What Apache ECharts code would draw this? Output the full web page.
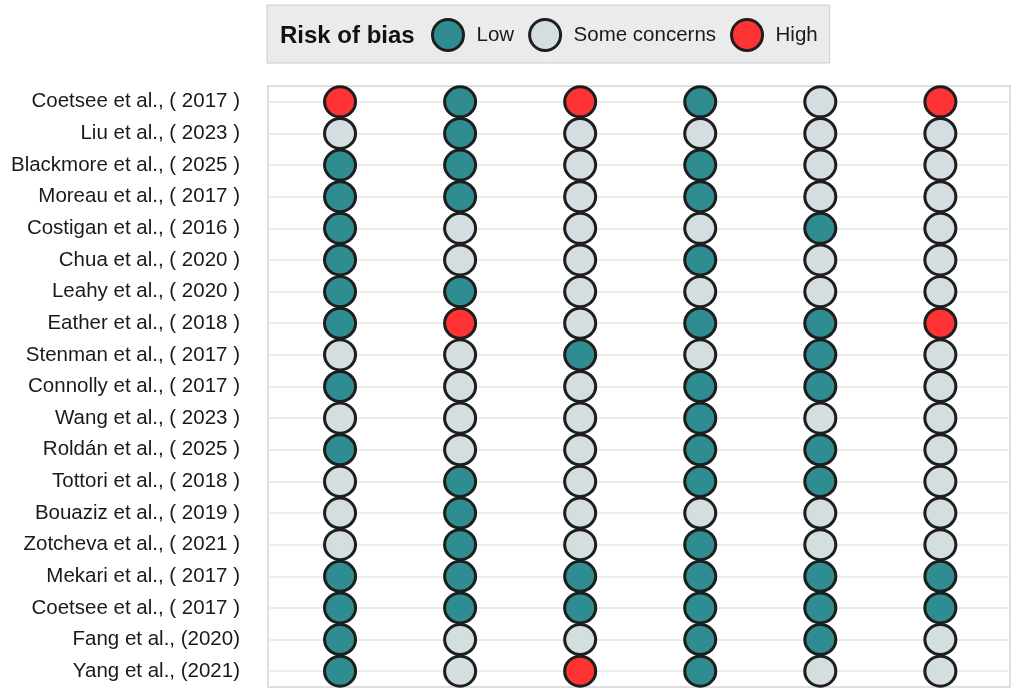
<!DOCTYPE html>
<html>
<head>
<meta charset="utf-8">
<script src="https://cdn.jsdelivr.net/npm/echarts@6/dist/echarts.min.js"></script>
<style>html,body{margin:0;padding:0;background:#fff}#c{width:1016px;height:695px}</style>
</head>
<body>
<div id="c"></div>
<script>
const studies = [
  'Coetsee et al., ( 2017 )','Liu et al., ( 2023 )','Blackmore et al., ( 2025 )','Moreau et al., ( 2017 )',
  'Costigan et al., ( 2016 )','Chua et al., ( 2020 )','Leahy et al., ( 2020 )','Eather et al., ( 2018 )',
  'Stenman et al., ( 2017 )','Connolly et al., ( 2017 )','Wang et al., ( 2023 )','Roldán et al., ( 2025 )',
  'Tottori et al., ( 2018 )','Bouaziz et al., ( 2019 )','Zotcheva et al., ( 2021 )','Mekari et al., ( 2017 )',
  'Coetsee et al., ( 2017 )','Fang et al., (2020)','Yang et al., (2021)'
];
const domains = [1, 2, 3, 4, 5, 6];
const d1 = ['H','S','L','L','L','L','L','L','S','L','S','L','S','S','S','L','L','L','L'];
const d2 = ['L','L','L','L','S','S','L','H','S','S','S','S','L','L','L','L','L','S','S'];
const d3 = ['H','S','S','S','S','S','S','S','L','S','S','S','S','S','S','L','L','S','H'];
const d4 = ['L','S','L','L','S','L','S','L','S','L','L','L','L','S','L','L','L','L','L'];
const d5 = ['S','S','S','S','L','S','S','L','L','L','S','L','L','S','S','L','L','L','S'];
const d6 = ['H','S','S','S','S','S','S','H','S','S','S','S','S','S','S','L','L','S','S'];
const judgements = [d1, d2, d3, d4, d5, d6];
const levelCodes = ['L', 'S', 'H'];
const levelNames = ['Low', 'Some concerns', 'High'];
const levelColors = ['#2f8d92', '#d4dee1', '#ff3333'];

function pointsFor(code) {
  const out = [];
  judgements.forEach((col, ci) => {
    col.forEach((v, ri) => { if (v === code) out.push([domains[ci], ri]); });
  });
  return out;
}

const series = levelCodes.map((code, i) => {
  const s = {
    name: levelNames[i],
    type: 'scatter',
    data: pointsFor(code),
    symbol: 'circle',
    symbolSize: [31, 30],
    z: 5,
    itemStyle: { color: levelColors[i], borderColor: '#1e1e1e', borderWidth: 3, opacity: 1 },
    emphasis: { disabled: true }
  };
  if (i === 0) {
    s.markLine = {
      silent: true,
      z: 1,
      symbol: 'none',
      label: { show: false },
      lineStyle: { color: '#e6e6e6', width: 1.5, type: 'solid' },
      data: studies.map((_, ri) => ({ yAxis: ri }))
    };
  }
  return s;
});

const chart = echarts.init(document.getElementById('c'));
chart.setOption({
  animation: false,
  textStyle: { fontFamily: '"Liberation Sans", Arial, sans-serif' },
  grid: { left: 268, right: 6, top: 86, bottom: 8, show: true, borderColor: '#d4d4d4', borderWidth: 1.5, backgroundColor: '#ffffff' },
  xAxis: { type: 'value', min: 0.4, max: 6.58, show: false },
  yAxis: {
    type: 'category', inverse: true, data: studies,
    axisLine: { show: false }, axisTick: { show: false }, splitLine: { show: false },
    axisLabel: { fontSize: 20.5, color: '#1a1a1a', margin: 28, interval: 0 }
  },
  legend: {
    data: levelNames,
    left: 267, top: 5,
    padding: [13, 12, 11, 164],
    backgroundColor: '#ebebeb', borderColor: '#cccccc', borderWidth: 1,
    icon: 'circle', itemWidth: 47, itemHeight: 31, itemGap: 14,
    selectedMode: false,
    itemStyle: { borderColor: '#1e1e1e', borderWidth: 3 },
    textStyle: { fontSize: 20.5, color: '#1a1a1a' }
  },
  graphic: [{
    type: 'text', z: 100, left: 280, top: 24,
    style: { text: 'Risk of bias', font: 'bold 24px "Liberation Sans", Arial, sans-serif', fill: '#111111' }
  }],
  series: series
});
</script>
</body>
</html>
